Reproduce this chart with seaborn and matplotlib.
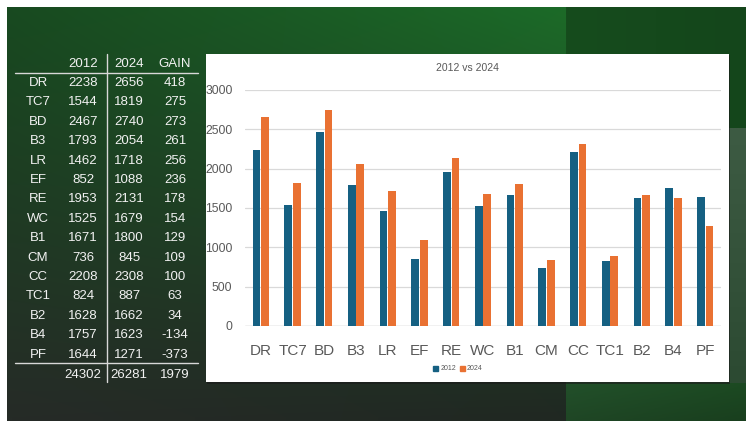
import numpy as np
import pandas as pd
import matplotlib
matplotlib.use("Agg")
import matplotlib.pyplot as plt
from matplotlib.colors import to_rgb
from matplotlib.patches import Rectangle
import seaborn as sns

# data
sites = ['DR', 'TC7', 'BD', 'B3', 'LR', 'EF', 'RE', 'WC', 'B1', 'CM', 'CC', 'TC1', 'B2', 'B4', 'PF']
vals_2012 = [2238, 1544, 2467, 1793, 1462, 852, 1953, 1525, 1671, 736, 2208, 824, 1628, 1757, 1644]
vals_2024 = [2656, 1819, 2740, 2054, 1718, 1088, 2131, 1679, 1800, 845, 2308, 887, 1662, 1623, 1271]
years = ['2012', '2024']
y_ticks = [0, 500, 1000, 1500, 2000, 2500, 3000]

gain = [b - a for a, b in zip(vals_2012, vals_2024)]

df = pd.DataFrame({
    'site': sites * 2,
    'year': [years[0]] * len(sites) + [years[1]] * len(sites),
    'value': vals_2012 + vals_2024,
})

sns.set_theme(style='white')
plt.rcParams['font.family'] = ['Liberation Sans Narrow', 'Liberation Sans', 'DejaVu Sans']

W, H = 746, 425
fig = plt.figure(figsize=(W / 100, H / 100), dpi=100)
fig.patch.set_facecolor('white')

# slide background drawn in pixel coords
bg = fig.add_axes([0, 0, 1, 1])
bg.set_xlim(0, W)
bg.set_ylim(H, 0)
bg.axis('off')


def grad(x0, x1, y0, y1, tl, tr, bl, br):
    nx, ny = 60, 60
    tx = np.linspace(0, 1, nx)[None, :, None]
    ty = np.linspace(0, 1, ny)[:, None, None]
    c = [np.array(to_rgb(k))[None, None, :] for k in (tl, tr, bl, br)]
    img = (1 - ty) * ((1 - tx) * c[0] + tx * c[1]) + ty * ((1 - tx) * c[2] + tx * c[3])
    bg.imshow(img, extent=(x0, x1, y1, y0), aspect='auto', interpolation='bilinear')


grad(7, 566, 7, 421, '#184a20', '#1c6a28', '#262b27', '#202822')
grad(566, W, 7, 128, '#164c1d', '#14461b', '#164c1d', '#14461b')
grad(566, W, 128, 383, '#3d5b43', '#3d5b43', '#2c4a32', '#2c4a32')
grad(566, W, 383, 421, '#22502a', '#1c4a22', '#1f4625', '#193f1e')
bg.set_xlim(0, W)
bg.set_ylim(H, 0)

# chart card
bg.add_patch(Rectangle((207, 55), 523, 329, facecolor='#1a1a1a', edgecolor='none', alpha=0.6))
bg.add_patch(Rectangle((206, 54), 523, 328, facecolor='white', edgecolor='none'))

# table on the left
tc = '#f2f2f2'
col_x = [38, 83, 129, 175]
fs = 9.5
bg.text(col_x[1], 64, '2012', color=tc, fontsize=fs, ha='center', va='center')
bg.text(col_x[2], 64, '2024', color=tc, fontsize=fs, ha='center', va='center')
bg.text(col_x[3], 64, 'GAIN', color=tc, fontsize=fs, ha='center', va='center')
for i, s in enumerate(sites):
    yy = 83 + i * 19.4
    bg.text(col_x[0], yy, s, color=tc, fontsize=fs, ha='center', va='center')
    bg.text(col_x[1], yy, str(vals_2012[i]), color=tc, fontsize=fs, ha='center', va='center')
    bg.text(col_x[2], yy, str(vals_2024[i]), color=tc, fontsize=fs, ha='center', va='center')
    bg.text(col_x[3], yy, str(gain[i]), color=tc, fontsize=fs, ha='center', va='center')
bg.text(col_x[1], 375, str(sum(vals_2012)), color=tc, fontsize=fs, ha='center', va='center')
bg.text(col_x[2], 375, str(sum(vals_2024)), color=tc, fontsize=fs, ha='center', va='center')
bg.text(col_x[3], 375, str(sum(gain)), color=tc, fontsize=fs, ha='center', va='center')
bg.plot([15, 198], [73, 73], color='#d8d8d8', lw=1)
bg.plot([15, 198], [363, 363], color='#d8d8d8', lw=1)
bg.plot([107, 107], [54, 382], color='#d8d8d8', lw=1)

# the bar chart
ax = fig.add_axes([245 / W, 1 - 326 / H, 476 / W, 236 / H])
ax.set_facecolor('none')
sns.barplot(data=df, x='site', y='value', hue='year', order=sites, hue_order=years,
            palette=['#156082', '#e97132'], saturation=1, width=0.54, gap=0.1,
            linewidth=0, legend=False, ax=ax)
ax.set_ylim(0, 3000)
ax.set_yticks(y_ticks)
ax.yaxis.grid(True, color='#d9d9d9', lw=0.9)
ax.set_axisbelow(True)
for sp in ax.spines.values():
    sp.set_visible(False)
ax.axhline(0, color='#d0d0d0', lw=1, zorder=0)
ax.set_xlabel('')
ax.set_ylabel('')
ax.tick_params(axis='y', length=0, pad=9, labelsize=8.7, labelcolor='#595959')
ax.tick_params(axis='x', length=0, pad=13, labelsize=11, labelcolor='#595959')

fig.text(467.5 / W, 1 - 68 / H, '2012 vs 2024', ha='center', va='center', fontsize=7.5, color='#595959')

# legend
handles = [Rectangle((0, 0), 1, 1, color=c) for c in ['#156082', '#e97132']]
fig.legend(handles, years, loc='center', bbox_to_anchor=(458 / W, 1 - 369 / H), ncol=2,
           frameon=False, fontsize=5, handlelength=0.7, handleheight=0.7,
           handletextpad=0.3, columnspacing=0.6, labelcolor='#595959')

fig.savefig('out.png', dpi=100)
